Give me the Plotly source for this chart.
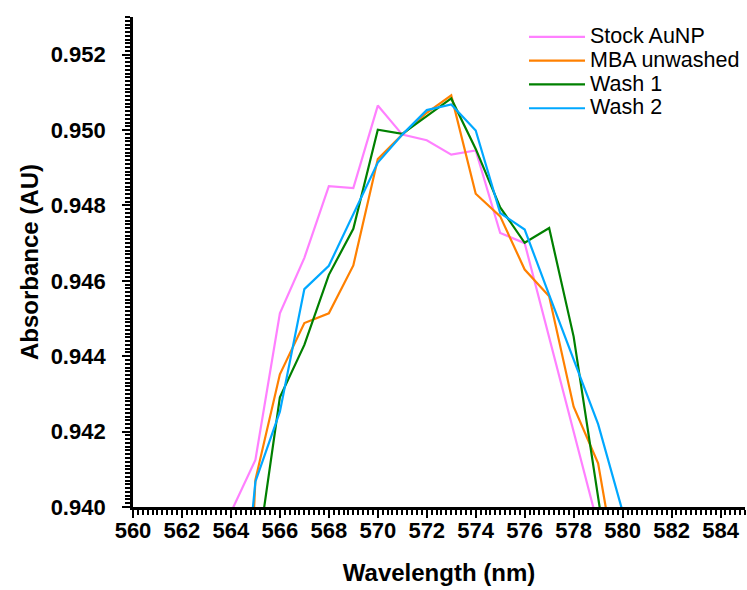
import plotly.graph_objects as go

# UV-Vis absorbance near the plasmon peak, 1 nm steps
wavelength = [564, 565, 566, 567, 568, 569, 570, 571, 572, 573, 574, 575, 576, 577, 578, 579, 580]

stock_aunp = [0.93986, 0.94125, 0.94514, 0.94661, 0.94851, 0.94846, 0.95065, 0.94988, 0.94973,
              0.94935, 0.94946, 0.94727, 0.94700, 0.94450, 0.94200, 0.93950, None]
mba_unwashed = [0.92670, 0.94072, 0.94352, 0.94488, 0.94514, 0.94641, 0.94923, 0.94988, 0.95046,
                0.95092, 0.94831, 0.94771, 0.94630, 0.94559, 0.94266, 0.94116, 0.93742]
wash_1 = [None, 0.93836, 0.94291, 0.94430, 0.94616, 0.94738, 0.95001, 0.94990, 0.95037,
          0.95084, 0.94950, 0.94795, 0.94701, 0.94740, 0.94452, 0.94025, 0.93600]
wash_2 = [0.93400, 0.94067, 0.94253, 0.94578, 0.94640, 0.94777, 0.94914, 0.94988, 0.95053,
          0.95068, 0.94999, 0.94780, 0.94736, 0.94563, 0.94390, 0.94220, 0.93988]

series_names = ["Stock AuNP", "MBA unwashed", "Wash 1", "Wash 2"]
series_values = [stock_aunp, mba_unwashed, wash_1, wash_2]
series_colors = ["#ff80ff", "#ff8000", "#008000", "#00a8ff"]

x_ticks = list(range(560, 585, 2))
y_ticks = [0.940, 0.942, 0.944, 0.946, 0.948, 0.950, 0.952]

FONT = "Liberation Sans, Arial, sans-serif"

fig = go.Figure()
for name, vals, color in zip(series_names, series_values, series_colors):
    fig.add_trace(go.Scatter(
        x=wavelength, y=vals, mode="lines",
        # larger glyphs than the legend's row pitch so entries sit close together
        name=f'<span style="font-size:21.5px">{name}</span>',
        line=dict(color=color, width=2.2),
        connectgaps=False,
    ))

axis_common = dict(
    showline=True, linecolor="black", linewidth=2.8,
    showgrid=False, zeroline=False,
    ticks="outside", ticklen=8, tickwidth=2.2, tickcolor="black",
    tickfont=dict(family=FONT, size=22, color="black", weight="bold"),
    title_font=dict(family=FONT, size=24, color="black", weight="bold"),
    mirror=False,
)

fig.update_xaxes(
    **axis_common,
    range=[560, 585],
    tickvals=x_ticks,
    ticktext=[str(t) for t in x_ticks],
    ticklabelstandoff=-6,
    minor=dict(ticks="outside", ticklen=5, tickwidth=1.5, tickcolor="black", dtick=0.2, tick0=560),
    title_text="Wavelength (nm)",
    title_standoff=22,
)
fig.update_yaxes(
    **axis_common,
    range=[0.940, 0.953],
    tickvals=y_ticks,
    ticktext=[f"{t:.3f}" for t in y_ticks],
    ticklabelstandoff=12,
    minor=dict(ticks="outside", ticklen=5, tickwidth=1.5, tickcolor="black", dtick=0.0001, tick0=0.940),
    title_text="Absorbance (AU)",
    title_standoff=6,
)

fig.update_layout(
    width=747, height=590,
    margin=dict(l=133, r=2, t=17, b=83),
    paper_bgcolor="white", plot_bgcolor="white",
    font=dict(family=FONT, color="black"),
    legend=dict(
        x=1.0, y=0.994, xanchor="right", yanchor="top",
        bgcolor="rgba(0,0,0,0)", borderwidth=0,
        font=dict(family=FONT, size=16, color="black"),
        itemwidth=56,
        tracegroupgap=0,
    ),
    showlegend=True,
)

fig.write_html("out.html")
